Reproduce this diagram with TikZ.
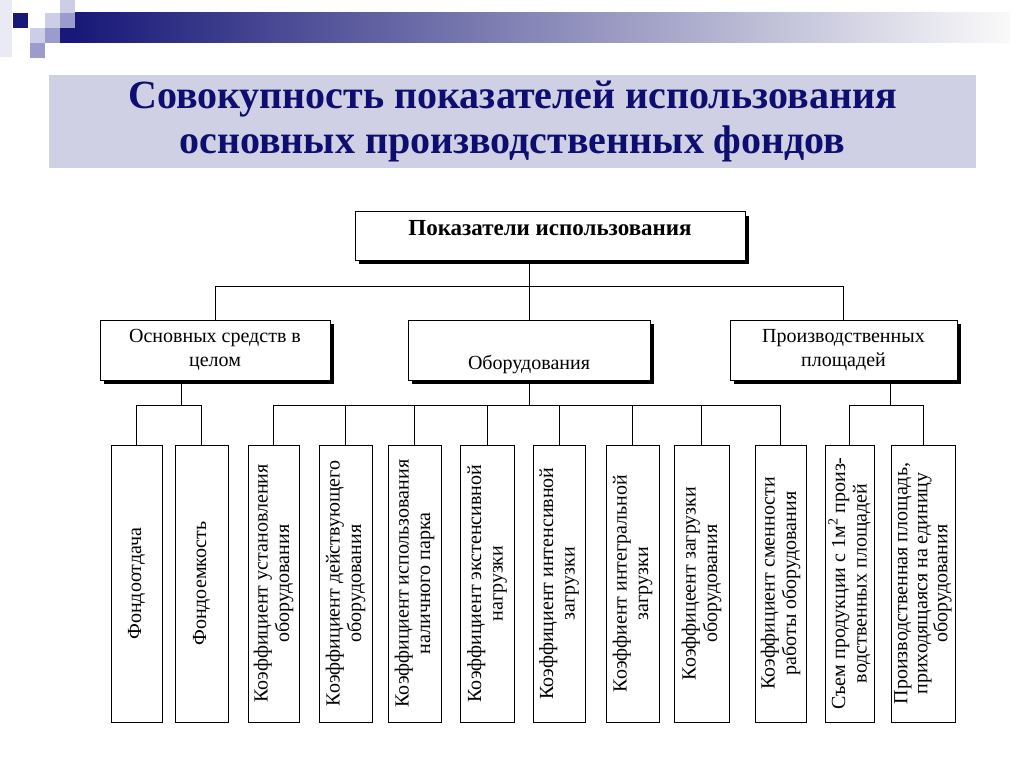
\documentclass[tikz,border=0pt]{standalone}
\usepackage{fontspec}
\setmainfont{Liberation Serif}
\usepackage{tikz}
\usetikzlibrary{shadows}

\definecolor{titlenavy}{RGB}{14,14,112}
\definecolor{bandgray}{RGB}{208,208,229}
\definecolor{barnavy}{RGB}{24,24,120}
\definecolor{pixpale}{RGB}{234,234,244}
\definecolor{pixlight}{RGB}{205,205,230}
\definecolor{pixmid}{RGB}{155,155,205}

\tikzset{
  box/.style={draw, line width=1pt, fill=white, align=center, inner sep=2pt},
  shbox/.style={box, drop shadow={shadow xshift=4pt, shadow yshift=-4pt, fill=black, opacity=1}},
  vbox/.style={box, rotate=90, minimum width=277pt,
    font=\fontsize{20}{21.5}\selectfont},
}

\begin{document}
\begin{tikzpicture}[x=1pt,y=-1pt]
\useasboundingbox (0,0) rectangle (1024,767);

% header bar
\shade[left color=barnavy, right color=white!96!gray] (75,13) rectangle (1010,43);
\fill[pixpale] (0,0) rectangle (12,57);
\fill[barnavy] (13,13) rectangle (28,28);
\fill[pixlight] (60,0) rectangle (75,13);
\fill[pixlight] (45,13) rectangle (60,28);
\fill[pixmid] (60,13) rectangle (75,28);
\fill[barnavy] (60,28) rectangle (75,43);
\fill[pixmid] (45,28) rectangle (60,43);
\fill[pixlight] (30,28) rectangle (45,43);
\fill[pixmid] (30,43) rectangle (45,58);

% title
\node[fill=bandgray, minimum width=927pt, minimum height=93pt, align=center,
  text=titlenavy, font=\fontsize{40}{45}\selectfont\bfseries] (title) at (512.5,121.5)
  {Совокупность показателей использования\\основных производственных фондов};

% levels 1 and 2
\node[shbox, minimum width=390pt, minimum height=48pt, text depth=16pt,
  font=\fontsize{23}{24}\selectfont\bfseries] (top) at (550,236) {Показатели использования};

\node[shbox, minimum width=230pt, minimum height=60pt,
  font=\fontsize{20}{24}\selectfont] (osn) at (215,350) {Основных средств в\\целом};
\node[shbox, minimum width=242pt, minimum height=60pt, text height=44pt,
  font=\fontsize{20}{24}\selectfont] (obor) at (529,350) {Оборудования};
\node[shbox, minimum width=227pt, minimum height=60pt,
  font=\fontsize{20}{24}\selectfont] (plosh) at (843.5,350) {Производственных\\площадей};

% level 3
\node[vbox, minimum height=51pt] (f1) at (136.5,583.5) {Фондоотдача};
\node[vbox, minimum height=53pt] (f2) at (201.5,583.5) {Фондоемкость};

\node[vbox, minimum height=51pt] (k1) at (273.5,583.5) {Коэффициент установления\\оборудования};
\node[vbox, minimum height=53pt] (k2) at (345.5,583.5) {Коэффициент действующего\\оборудования};
\node[vbox, minimum height=53pt] (k3) at (414.5,583.5) {Коэффициент использования\\наличного парка};
\node[vbox, minimum height=54pt] (k4) at (487,583.5) {Коэффициент экстенсивной\\нагрузки};
\node[vbox, minimum height=52pt] (k5) at (559,583.5) {Коэффициент интенсивной\\загрузки};
\node[vbox, minimum height=53pt] (k6) at (632.5,583.5) {Коэффиент интегральной\\загрузки};
\node[vbox, minimum height=55pt] (k7) at (701.5,583.5) {Коэффицеент загрузки\\оборудования};
\node[vbox, minimum height=51pt] (k8) at (780.5,583.5) {Коэффициент сменности\\работы оборудования};

\node[vbox, minimum height=49pt] (s1) at (849.5,583.5) {Съем продукции с 1м\textsuperscript{2} произ-\\водственных площадей};
\node[vbox, minimum height=64pt, font=\fontsize{20}{20}\selectfont] (s2) at (923,583.5)
  {Производственная площадь,\\приходящаяся на единицу\\оборудования};

% connectors
\draw[line width=1pt] (top.south -| obor.north) -- (obor.north);
\draw[line width=1pt] (osn.north) -- ++(0,-33) -| (plosh.north);

\draw[line width=1pt] (osn.south) ++(-34,0) -- ++(0,25) coordinate (lbus);
\draw[line width=1pt] (f1.east) |- (lbus) -| (f2.east);

\draw[line width=1pt] (obor.south) -- ++(0,25) coordinate (cbus);
\draw[line width=1pt] (k1.east) |- (cbus) -| (k8.east);
\foreach \n in {k2,k3,k4,k5,k6,k7}
  \draw[line width=1pt] (\n.east) -- (\n.east |- cbus);

\draw[line width=1pt] (plosh.south) ++(47,0) -- ++(0,25) coordinate (rbus);
\draw[line width=1pt] (s1.east) |- (rbus) -| (s2.east);

\end{tikzpicture}
\end{document}
